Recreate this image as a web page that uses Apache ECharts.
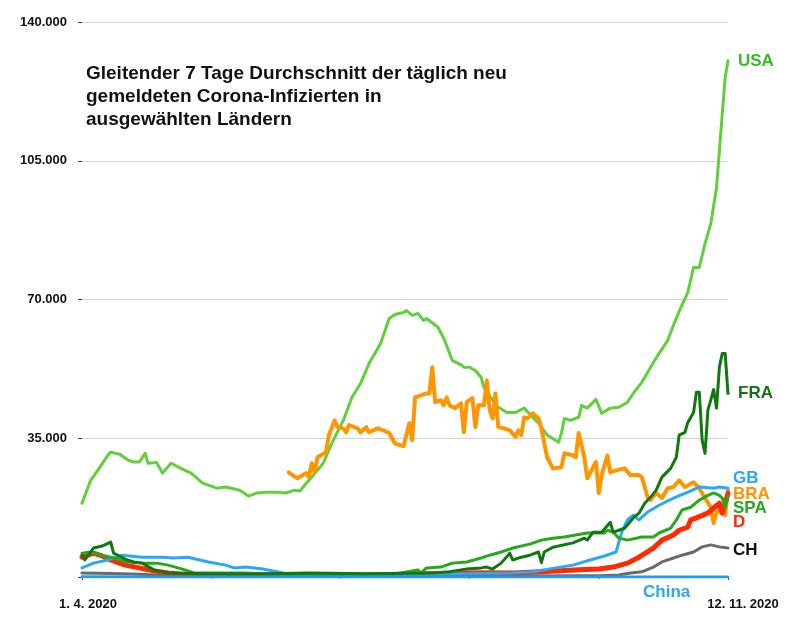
<!DOCTYPE html>
<html>
<head>
<meta charset="utf-8">
<script src="https://cdn.jsdelivr.net/npm/echarts@6/dist/echarts.min.js"></script>
<style>
html,body{margin:0;padding:0;background:#fff;}
#chart{width:800px;height:624px;}
</style>
</head>
<body>
<div id="chart"></div>
<script>
// Day index 0 = 1. 4. 2020, day 225 = 12. 11. 2020
const xTickLabels = ['1. 4. 2020', '12. 11. 2020'];
const yTicks = [0, 35000, 70000, 105000, 140000];
const titleText = 'Gleitender 7 Tage Durchschnitt der täglich neu\ngemeldeten Corona-Infizierten in\nausgewählten Ländern';
const seriesNames = ['USA', 'BRA', 'CH', 'D', 'GB', 'SPA', 'FRA', 'China'];

const USA = [[0,18600],[3,24400],[5,26400],[9,30700],[10,31500],[13,31000],[16,29500],[18,29000],[20,29000],[22,31200],[23,28700],[26,28900],[28,26200],[31,28700],[35,27200],[38,26200],[42,23700],[47,22400],[50,22700],[55,21900],[58,20400],[61,21200],[64,21400],[68,21400],[71,21200],[74,21900],[76,21700],[77,22700],[80,25200],[84,28700],[87,33700],[91,39500],[94,45300],[97,48800],[100,53900],[104,58900],[107,65200],[109,66200],[112,66700],[113,67200],[115,66000],[117,66500],[119,64700],[120,65200],[124,63000],[126,60200],[127,58400],[129,54600],[131,53900],[132,53600],[133,52900],[135,52900],[137,52100],[139,50400],[140,47800],[143,44600],[145,42800],[148,41500],[151,41500],[154,42600],[157,40300],[159,38800],[162,35800],[166,34000],[167,36300],[168,40000],[170,39500],[173,40300],[174,43300],[176,42600],[179,44800],[181,41300],[184,42600],[187,42800],[190,44100],[192,46300],[195,49100],[199,54100],[201,56400],[204,59700],[206,63500],[208,67000],[211,71800],[213,78100],[215,78100],[217,84100],[219,89100],[221,98200],[222,107500],[223,116800],[224,125900],[225,130200]];
const BRA = [[72,26400],[75,24900],[78,26200],[79,25200],[80,28700],[81,26400],[82,30200],[85,31500],[86,35800],[88,39500],[89,37800],[91,37500],[92,36500],[93,38300],[96,37500],[97,36500],[99,37800],[100,36500],[103,37500],[105,37000],[107,36300],[109,33700],[111,33200],[112,33000],[114,38800],[115,34500],[116,45300],[118,45800],[120,46300],[121,46300],[122,52900],[123,44100],[125,44600],[126,43300],[127,45300],[128,43300],[130,42600],[132,43800],[133,36500],[134,44100],[136,45100],[137,37800],[138,43300],[140,43300],[141,49600],[142,42100],[143,40000],[144,46300],[145,37800],[147,37500],[149,37000],[151,35300],[152,37000],[153,35800],[154,40300],[155,40000],[157,41300],[159,40000],[160,37500],[162,30200],[164,27400],[167,27700],[168,31200],[171,30700],[172,30200],[173,36300],[175,30000],[176,24900],[179,29000],[180,21200],[181,25700],[183,30700],[184,26400],[186,26900],[189,27400],[191,25700],[194,25700],[195,25200],[197,20100],[198,19400],[200,21200],[202,19900],[204,22400],[206,22700],[208,24400],[210,22700],[213,23900],[215,22400],[217,19900],[219,17600],[220,13600],[221,16400],[223,16900],[224,15600],[225,21900]];
const FRA = [[0,5500],[1,4300],[4,7300],[7,7800],[10,8800],[11,6000],[13,5300],[15,4500],[18,3800],[21,3500],[25,1800],[30,1000],[44,800],[61,750],[79,1000],[99,800],[122,1000],[128,1300],[132,1800],[134,2000],[139,2300],[141,2500],[143,2000],[146,3500],[149,6000],[150,4300],[153,5000],[156,5500],[159,6300],[160,3600],[161,6300],[164,7500],[171,8600],[175,9800],[176,9300],[178,11300],[181,11300],[184,13800],[185,11300],[187,11800],[189,12300],[192,14900],[194,16100],[196,18600],[198,20100],[200,21900],[202,25200],[205,27400],[207,30200],[208,35800],[210,36500],[211,39000],[213,41500],[214,46600],[215,46600],[216,34500],[217,31200],[218,42100],[219,44600],[220,47300],[221,42600],[222,52900],[223,56400],[224,56400],[225,46300]];
const GB = [[0,2300],[4,3500],[9,4300],[14,5500],[21,5000],[28,5000],[32,4800],[37,5000],[44,3800],[50,3000],[53,2300],[57,2500],[63,2000],[70,1000],[73,500],[90,600],[120,700],[150,1000],[157,1300],[165,2300],[171,3000],[177,4300],[182,5300],[186,6300],[188,11300],[190,14400],[192,15600],[194,14400],[197,16400],[201,18100],[206,19900],[211,21400],[215,22700],[220,22400],[222,22700],[225,22400]];
const SPA = [[0,6000],[3,6300],[7,5500],[11,4800],[16,3800],[21,3500],[26,3500],[30,3000],[35,2000],[39,1000],[46,1000],[56,1000],[67,750],[80,400],[100,300],[105,300],[111,1000],[117,1800],[118,1000],[120,2300],[125,2500],[129,3500],[134,3800],[139,4800],[142,5500],[146,6300],[150,7300],[156,8300],[160,9300],[164,9800],[168,10100],[176,11100],[182,11100],[183,11800],[185,11300],[187,9800],[190,9300],[195,10100],[199,10100],[201,11100],[205,12300],[207,14400],[209,16900],[212,17600],[215,19400],[218,20600],[220,21200],[222,20600],[223,19900],[224,17600],[225,20400]];
const D = [[0,5000],[4,6000],[7,5300],[10,4300],[15,3000],[20,2300],[23,1800],[30,1000],[37,600],[50,500],[80,450],[100,500],[120,800],[140,1100],[150,1000],[160,1300],[173,1800],[180,2000],[185,2500],[190,3500],[194,5000],[199,7300],[202,9300],[206,10600],[208,11800],[211,12600],[212,14400],[214,14900],[218,16100],[220,17400],[222,18600],[223,16100],[225,21100]];
const CH = [[0,1000],[10,900],[20,700],[30,400],[45,250],[80,200],[120,200],[150,250],[170,300],[180,300],[187,500],[191,1000],[195,1300],[199,2500],[202,3800],[206,4800],[209,5500],[213,6300],[216,7600],[219,8100],[222,7600],[225,7300]];
const China = [[0,80],[30,30],[100,20],[225,30]];

const dataByName = {USA, BRA, CH, D, GB, SPA, FRA, China};
const lineColors = {USA:'#5fd03a', BRA:'#ff9500', CH:'#6a6a6a', D:'#ff2a00', GB:'#2aa8f5', SPA:'#27a81f', FRA:'#0f780f', China:'#1e9cf5'};
const labelColors = {USA:'#35bb24', BRA:'#ff9500', CH:'#111111', D:'#ff2a00', GB:'#2aa8f5', SPA:'#27a81f', FRA:'#186f18', China:'#2aa8f5'};
const lineWidths = {USA:3, BRA:4, CH:3, D:5, GB:3, SPA:3, FRA:3, China:3};
const labelOffsets = {USA:[2,0], BRA:[-3,4], CH:[-3,2], D:[-3,29], GB:[-3,-10], SPA:[-3,12], FRA:[2,0], China:[-93,15]};

const FONT = '"Liberation Sans", Arial, Helvetica, sans-serif';

function fmtThousands(v){
  return String(v).replace(/\B(?=(\d{3})+(?!\d))/g, '.');
}

const chart = echarts.init(document.getElementById('chart'), null, {renderer:'canvas'});

const series = seriesNames.map(name => ({
  name: name,
  type: 'line',
  data: dataByName[name],
  showSymbol: false,
  symbol: 'none',
  smooth: false,
  lineStyle: {color: lineColors[name], width: lineWidths[name], join: 'round', cap: 'round'},
  itemStyle: {color: lineColors[name]},
  endLabel: {
    show: true,
    formatter: name,
    color: labelColors[name],
    fontFamily: FONT,
    fontWeight: 'bold',
    fontSize: 17,
    distance: 8,
    offset: labelOffsets[name]
  },
  emphasis: {disabled: true},
  animation: false
}));

chart.setOption({
  animation: false,
  backgroundColor: '#ffffff',
  title: {
    text: titleText,
    left: 81,
    top: 57,
    textStyle: {fontFamily: FONT, fontWeight: 'bold', fontSize: 19, lineHeight: 23, color: '#111'}
  },
  grid: {left: 82, right: 72, top: 22, bottom: 47, containLabel: false},
  xAxis: {
    type: 'value',
    min: 0,
    max: 225,
    interval: 225,
    axisLine: {show: true, lineStyle: {color: '#bbb', width: 1}},
    axisTick: {show: true, length: 3, lineStyle: {color: '#555'}},
    minorTick: {show: true, splitNumber: 225, length: 2, lineStyle: {color: '#777'}},
    splitLine: {show: false},
    axisLabel: {
      margin: 21,
      fontFamily: FONT,
      fontWeight: 'bold',
      fontSize: 13,
      color: '#111',
      formatter: function(v){
        if (v === 0) return '{a|' + xTickLabels[0] + '}';
        if (v === 225) return '{b|' + xTickLabels[1] + '}';
        return '';
      },
      rich: {
        a: {fontFamily: FONT, fontWeight: 'bold', fontSize: 13, color: '#111', padding: [0,0,0,12]},
        b: {fontFamily: FONT, fontWeight: 'bold', fontSize: 13, color: '#111', padding: [0,0,0,30]}
      }
    }
  },
  yAxis: {
    type: 'value',
    min: yTicks[0],
    max: yTicks[yTicks.length-1],
    interval: yTicks[1] - yTicks[0],
    axisLine: {show: false},
    axisTick: {show: true, length: 4, lineStyle: {color: '#333'}},
    splitLine: {show: true, lineStyle: {color: '#d3d3d3', width: 1}},
    axisLabel: {
      margin: 15,
      fontFamily: FONT,
      fontWeight: 'bold',
      fontSize: 13,
      color: '#111',
      formatter: function(v){ return v === 0 ? '' : fmtThousands(v); }
    }
  },
  series: series
});
</script>
</body>
</html>
